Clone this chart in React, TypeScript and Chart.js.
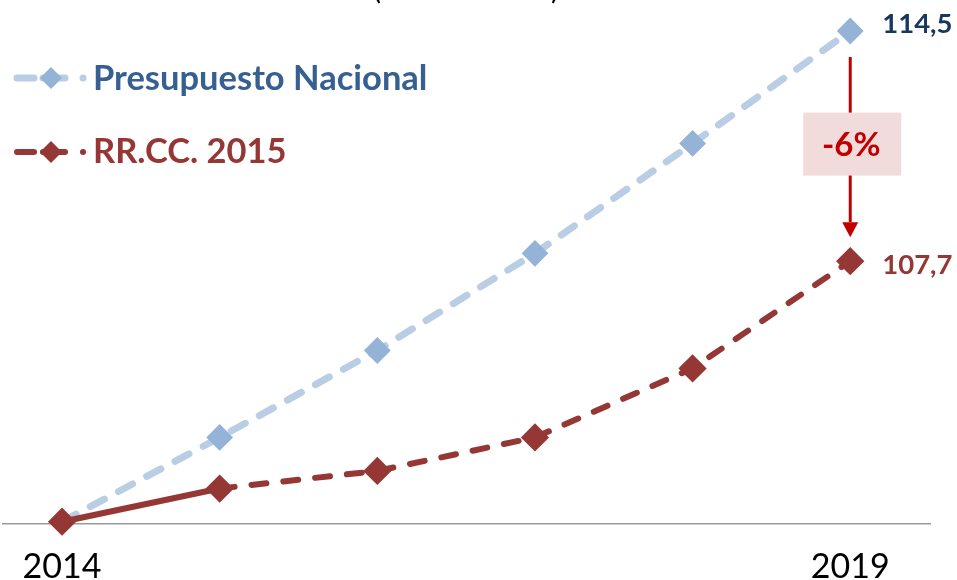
import React, { useEffect, useRef } from "react";
import { Chart, registerables } from "chart.js";

Chart.register(...registerables);

// ---- data ----
const years = [2014, 2015, 2016, 2017, 2018, 2019];
const tickYears = [2014, 2019];
const presupuestoNacional = [100, 102.49, 105.06, 107.93, 111.18, 114.5];
const rrcc2015 = [100, 100.98, 101.5, 102.49, 104.53, 107.7];
const seriesNames = ["Presupuesto Nacional", "RR.CC. 2015"];
const endLabels = ["114,5", "107,7"];
const changeLabel = "-6%";
const titleParens = ["(", ")"];

const BLUE_LINE = "#B9CDE5";
const BLUE_MARK = "#95B3D7";
const BLUE_TEXT = "#376092";
const BLUE_LABEL = "#17375E";
const RED = "#953735";
const ARROW_RED = "#C00000";

const overlayPlugin = {
  id: "overlay",
  afterDatasetsDraw(chart: any) {
    const ctx = chart.ctx as CanvasRenderingContext2D;
    const xs = chart.scales.x;
    const ys = chart.scales.y;
    ctx.save();

    // cut-off title parentheses at the top
    ctx.fillStyle = "#000";
    ctx.font = "30px Lato";
    ctx.textBaseline = "alphabetic";
    ctx.textAlign = "left";
    ctx.fillText(titleParens[0], 373, -1);
    ctx.fillText(titleParens[1], 551, -1);

    // legend
    const row = (y: number, base: number, lc: string, mc: string, tc: string, lw: number, text: string) => {
      ctx.save();
      ctx.lineCap = "round";
      ctx.strokeStyle = lc;
      ctx.lineWidth = lw;
      ctx.beginPath();
      ctx.moveTo(17, y); ctx.lineTo(34, y);
      ctx.moveTo(43, y); ctx.lineTo(65, y);
      ctx.moveTo(83, y); ctx.lineTo(83.01, y);
      ctx.stroke();
      ctx.fillStyle = mc;
      ctx.beginPath();
      ctx.moveTo(40, y); ctx.lineTo(51, y - 11); ctx.lineTo(62, y); ctx.lineTo(51, y + 11);
      ctx.closePath();
      ctx.fill();
      ctx.fillStyle = tc;
      ctx.font = "bold 34.5px Lato";
      ctx.textBaseline = "alphabetic";
      ctx.fillText(text, 93, base);
      ctx.restore();
    };
    row(78, 90, BLUE_LINE, BLUE_MARK, BLUE_TEXT, 7, seriesNames[0]);
    row(152, 163, RED, RED, RED, 6, seriesNames[1]);

    // end labels
    const lastIdx = years.length - 1;
    const x = xs.getPixelForValue(years[lastIdx]);
    const yB = ys.getPixelForValue(presupuestoNacional[lastIdx]);
    const yR = ys.getPixelForValue(rrcc2015[lastIdx]);
    ctx.font = "bold 27.5px Lato";
    ctx.textBaseline = "alphabetic";
    ctx.fillStyle = BLUE_LABEL;
    ctx.fillText(endLabels[0], x + 32, yB + 2);
    ctx.fillStyle = RED;
    ctx.fillText(endLabels[1], x + 32, yR + 13);

    // arrow
    const top = yB + 26;
    const tip = yR - 24;
    const headTop = yR - 39;
    ctx.strokeStyle = ARROW_RED;
    ctx.lineWidth = 3;
    ctx.beginPath();
    ctx.moveTo(x, top);
    ctx.lineTo(x, headTop);
    ctx.stroke();
    ctx.fillStyle = ARROW_RED;
    ctx.beginPath();
    ctx.moveTo(x - 8, headTop);
    ctx.lineTo(x + 8, headTop);
    ctx.lineTo(x, tip);
    ctx.closePath();
    ctx.fill();

    // box with change label
    const mid = (top + tip) / 2 - 3;
    ctx.fillStyle = "#F2DCDB";
    ctx.fillRect(x - 47, mid - 31.5, 98, 63);
    ctx.fillStyle = ARROW_RED;
    ctx.font = "bold 33px Lato";
    ctx.textAlign = "center";
    ctx.textBaseline = "middle";
    ctx.fillText(changeLabel, x + 1, mid + 1);

    ctx.restore();
  },
};

export default function App() {
  const ref = useRef<HTMLCanvasElement | null>(null);

  useEffect(() => {
    if (!ref.current) return;
    const chart = new Chart(ref.current, {
      type: "line",
      data: {
        datasets: [
          {
            label: seriesNames[1],
            data: years.map((y, i) => ({ x: y, y: rrcc2015[i] })),
            borderColor: RED,
            backgroundColor: RED,
            borderWidth: 6,
            borderCapStyle: "round",
            pointStyle: "rectRot",
            pointRadius: 12,
            pointBorderWidth: 3,
            pointBorderColor: RED,
            pointBackgroundColor: RED,
            tension: 0,
            clip: false,
            segment: {
              borderDash: (c: any) => (c.p0DataIndex === 0 ? [] : [15, 17]),
            },
          } as any,
          {
            label: seriesNames[0],
            data: years.map((y, i) => ({ x: y, y: presupuestoNacional[i] })),
            borderColor: BLUE_LINE,
            backgroundColor: BLUE_MARK,
            borderWidth: 7,
            borderCapStyle: "round",
            borderDash: [16, 16],
            pointStyle: "rectRot",
            pointRadius: 12,
            pointBorderWidth: 2,
            pointBorderColor: BLUE_MARK,
            pointBackgroundColor: BLUE_MARK,
            tension: 0,
            clip: false,
          } as any,
        ],
      },
      options: {
        responsive: false,
        animation: false,
        devicePixelRatio: 1,
        layout: { autoPadding: false, padding: { left: 0, right: 27, top: 0, bottom: -30 } },
        plugins: {
          legend: { display: false },
          tooltip: { enabled: false },
        },
        scales: {
          x: {
            type: "linear",
            min: 2013.627,
            max: 2019.506,
            afterBuildTicks: (s: any) => {
              s.ticks = tickYears.map((v) => ({ value: v }));
            },
            grid: { display: false, drawTicks: false },
            border: { display: true, color: "#9A9A9A", width: 1.5 },
            ticks: {
              color: "#000",
              font: { family: "Lato", size: 34 },
              padding: 22.6,
              maxRotation: 0,
              autoSkip: false,
              callback: (v: any) => String(v),
            },
          },
          y: {
            display: false,
            min: 99.932,
            max: 115.417,
          },
        },
      } as any,
      plugins: [overlayPlugin],
    });
    return () => chart.destroy();
  }, []);

  return (
    <div style={{ position: "fixed", left: 0, top: 0, width: 957, height: 580, background: "#fff" }}>
      <canvas ref={ref} width={957} height={580} />
    </div>
  );
}
